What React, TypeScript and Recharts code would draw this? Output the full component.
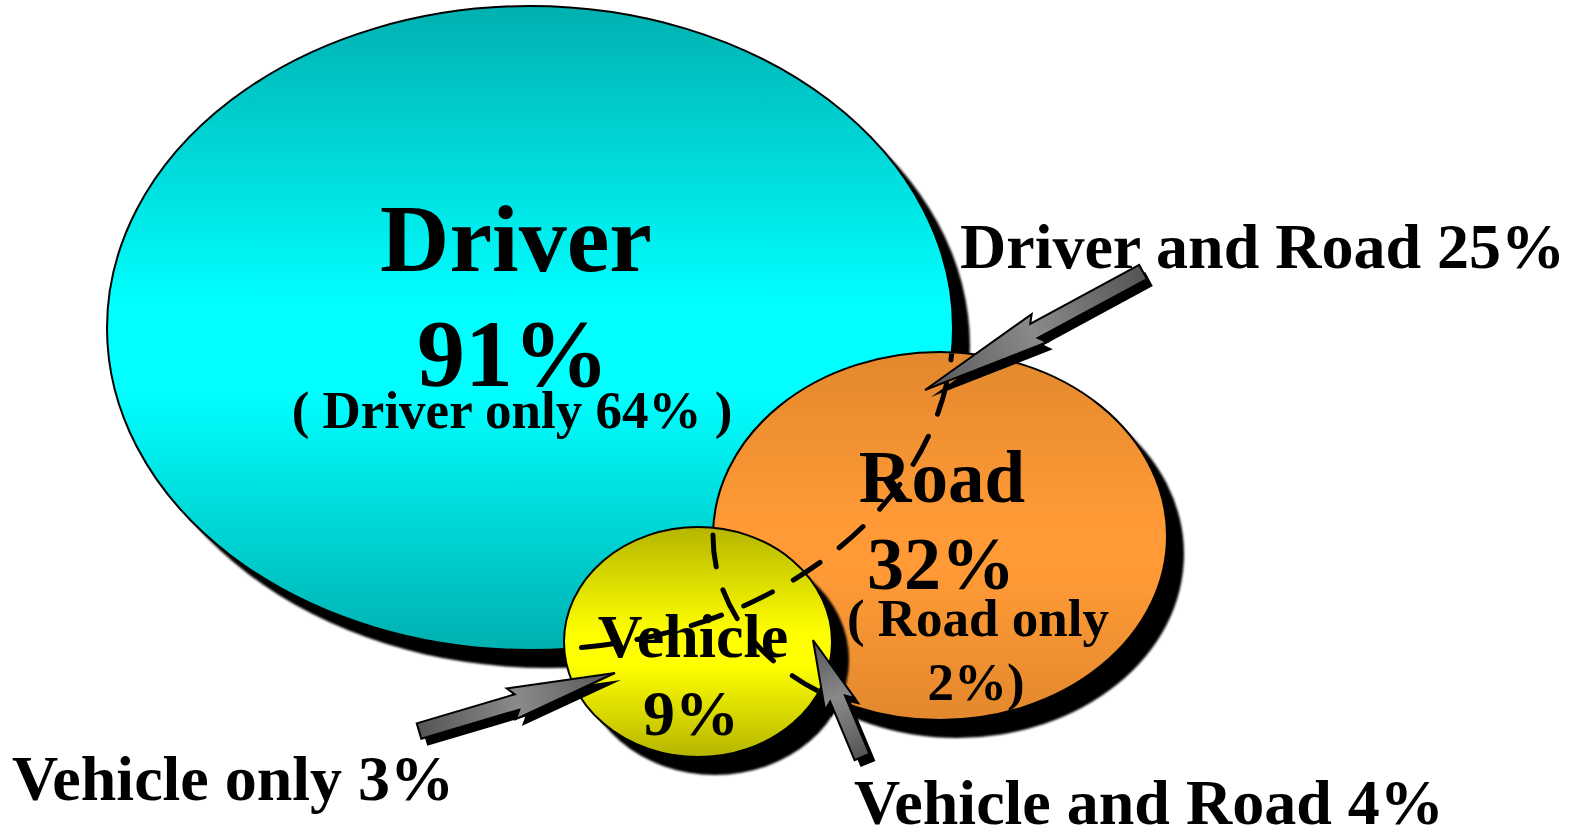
import { ScatterChart, Scatter, XAxis, YAxis } from "recharts";

const W = 1579;
const H = 829;

// the three sets of the diagram (picture units)
const setNames = ["Driver", "Road", "Vehicle"];
const setCx = [530, 940, 698];
const setCy = [328, 536, 642];
const setRx = [423, 227, 134];
const setRy = [322, 184, 115];
const setDark = ["#00b0b0", "#e3882d", "#b5b500"];
const setBright = ["#00ffff", "#ff9a36", "#ffff00"];

// labels
const labelText = [
  "Driver", "91%", "( Driver only 64% )",
  "Road", "32%", "( Road only", "2%)",
  "Vehicle", "9%",
  "Driver and Road 25%", "Vehicle only 3%", "Vehicle and Road 4%",
];
const labelX = [516, 513, 512, 942, 941, 978, 976, 693, 691, 960, 12, 854];
const labelY = [271, 386, 428, 502, 589, 636, 700, 657, 735, 268, 800, 824];
const labelSize = [96, 96, 53, 73, 74, 53, 53, 62, 64, 64, 64, 64];
const labelAnchor = ["middle", "middle", "middle", "middle", "middle", "middle", "middle", "middle", "middle", "start", "start", "start"];

// callout arrows: tail -> tip
const arrowFromX = [1143, 419, 862];
const arrowFromY = [272, 731, 757];
const arrowToX = [925, 615, 813];
const arrowToY = [390, 673, 640];

const K = 1; // px per unit (domain == chart size)

const sets = setNames.map((name, i) => ({
  name, x: setCx[i], y: setCy[i], rx: setRx[i], ry: setRy[i], i,
}));
const labels = labelText.map((t, i) => ({
  t, x: labelX[i], y: labelY[i], size: labelSize[i], anchor: labelAnchor[i],
}));
const arrows = arrowFromX.map((x, i) => ({
  x, y: arrowFromY[i], tx: arrowToX[i], ty: arrowToY[i], i,
}));

const SetShape = (p: any) => {
  const d = p.payload;
  const rx = d.rx * K, ry = d.ry * K;
  const gid = "grad" + d.i;
  const fid = "soft" + d.i;
  return (
    <g>
      <defs>
        <linearGradient id={gid} x1="0" y1="0" x2="0" y2="1">
          <stop offset="0" stopColor={setDark[d.i]} />
          <stop offset="0.46" stopColor={setBright[d.i]} />
          <stop offset="0.6" stopColor={setBright[d.i]} />
          <stop offset="1" stopColor={setDark[d.i]} />
        </linearGradient>
        <filter id={fid} x="-5%" y="-5%" width="110%" height="110%">
          <feGaussianBlur stdDeviation="1.2" />
        </filter>
      </defs>
      <ellipse cx={p.cx + 17} cy={p.cy + 18} rx={rx} ry={ry} fill="#000" filter={`url(#${fid})`} />
      <ellipse cx={p.cx} cy={p.cy} rx={rx} ry={ry} fill={`url(#${gid})`} stroke="#000" strokeWidth={2} />
    </g>
  );
};

// outline of a set where later sets cover it
const HiddenEdge = (p: any) => {
  const d = p.payload;
  const later = sets.filter((s) => s.i > d.i);
  if (!later.length) return <g />;
  const cid = "clip" + d.i;
  return (
    <g>
      <defs>
        <clipPath id={cid}>
          {later.map((s) => (
            <ellipse key={s.i} cx={p.cx + (s.x - d.x) * K} cy={p.cy + (s.y - d.y) * K} rx={s.rx * K - 1} ry={s.ry * K - 1} />
          ))}
        </clipPath>
      </defs>
      <ellipse
        cx={p.cx} cy={p.cy} rx={d.rx * K} ry={d.ry * K}
        fill="none" stroke="#000" strokeWidth={5} strokeDasharray="32 24" strokeLinecap="round"
        clipPath={`url(#${cid})`}
      />
    </g>
  );
};

const LabelShape = (p: any) => {
  const d = p.payload;
  return (
    <text x={p.cx} y={p.cy} textAnchor={d.anchor} fontSize={d.size} fontWeight="bold"
      fontFamily="'Liberation Serif', 'Times New Roman', serif" fill="#000">
      {d.t}
    </text>
  );
};

const ArrowShape = (p: any) => {
  const d = p.payload;
  const x1 = p.cx, y1 = p.cy;
  const x2 = x1 + (d.tx - d.x) * K, y2 = y1 + (d.ty - d.y) * K;
  const L = Math.hypot(x2 - x1, y2 - y1);
  const ux = (x2 - x1) / L, uy = (y2 - y1) / L;
  const nx = -uy, ny = ux;
  const w = 8, b = 16;
  const bx = x1 + ux * L * 0.5, by = y1 + uy * L * 0.5;
  const pts = [
    [x1 + nx * w, y1 + ny * w],
    [bx + nx * w, by + ny * w],
    [bx + nx * b - ux * 6, by + ny * b - uy * 6],
    [x2, y2],
    [bx - nx * b - ux * 6, by - ny * b - uy * 6],
    [bx - nx * w, by - ny * w],
    [x1 - nx * w, y1 - ny * w],
  ];
  const str = pts.map((q) => q.join(",")).join(" ");
  const sh = pts.map((q) => [q[0] + 6, q[1] + 7].join(",")).join(" ");
  const gid = "agrad" + d.i;
  return (
    <g>
      <defs>
        <linearGradient id={gid} gradientUnits="userSpaceOnUse" x1={x1} y1={y1} x2={x2} y2={y2}>
          <stop offset="0" stopColor="#555" />
          <stop offset="0.5" stopColor="#8a8a8a" />
          <stop offset="1" stopColor="#555" />
        </linearGradient>
      </defs>
      <polygon points={sh} fill="#000" />
      <polygon points={str} fill={`url(#${gid})`} stroke="#000" strokeWidth={2} strokeLinejoin="miter" />
    </g>
  );
};

export default function App() {
  return (
    <div style={{ position: "absolute", left: 0, top: 0, background: "#fff" }}>
      <ScatterChart width={W} height={H} margin={{ top: 0, right: 0, bottom: 0, left: 0 }}>
        <XAxis type="number" dataKey="x" domain={[0, W]} hide />
        <YAxis type="number" dataKey="y" domain={[0, H]} reversed hide />
        <Scatter data={sets} shape={SetShape} isAnimationActive={false} />
        <Scatter data={labels} shape={LabelShape} isAnimationActive={false} />
        <Scatter data={sets} shape={HiddenEdge} isAnimationActive={false} />
        <Scatter data={arrows} shape={ArrowShape} isAnimationActive={false} />
      </ScatterChart>
    </div>
  );
}
